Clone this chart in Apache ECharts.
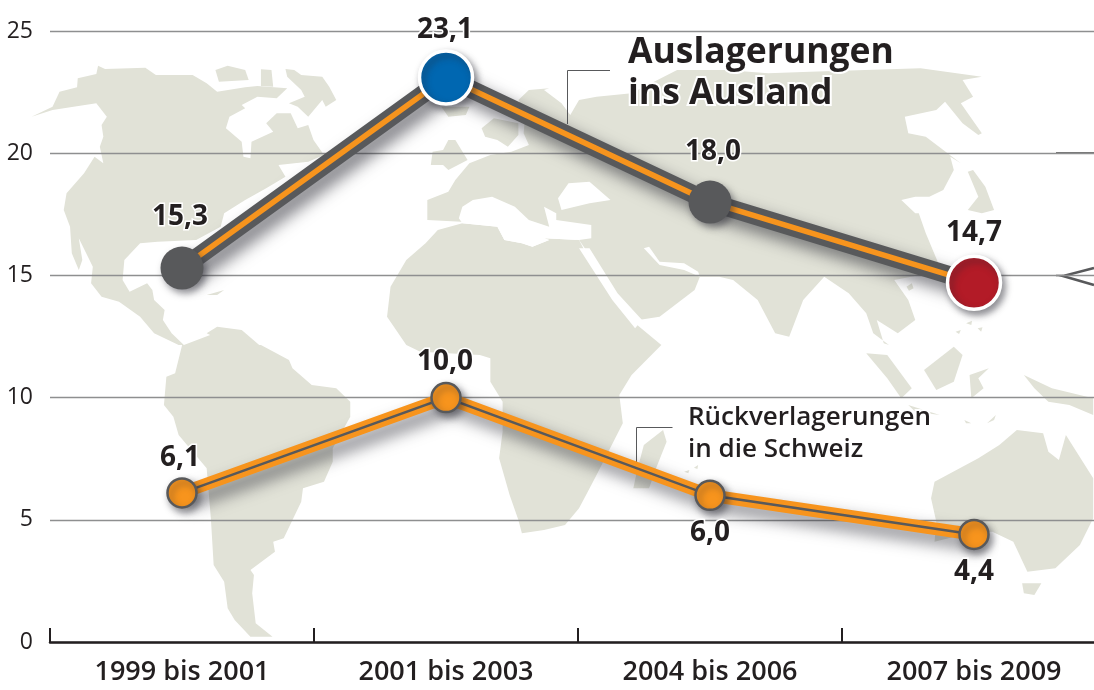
<!DOCTYPE html>
<html>
<head>
<meta charset="utf-8">
<style>
  html, body { margin: 0; padding: 0; background: #fff; overflow: hidden; }
  #main { width: 1200px; height: 690px; }
</style>
<script src="https://cdn.jsdelivr.net/npm/echarts@6/dist/echarts.min.js"></script>
</head>
<body>
<div id="main"></div>
<script>
const categories = ['1999 bis 2001', '2001 bis 2003', '2004 bis 2006', '2007 bis 2009'];
const auslagerungen = [15.3, 23.1, 18.0, 14.7];
const rueckverlagerungen = [6.1, 10.0, 6.0, 4.4];
const yTicks = [0, 5, 10, 15, 20, 25];

// background map, traced by hand (decoration only, no data in here)
const pts = (ox, oy) => (...v) => {
  const out = [];
  for (let i = 0; i < v.length; i += 2) out.push([v[i] / 2.855 + ox, v[i + 1] / 3 + oy]);
  return out;
};
const a = pts(0, 0), b = pts(544, 0), c = pts(0, 345), d = pts(544, 345);

const land = [
  // north america
  a(90,350,150,320,170,275,220,262,222,235,275,222,280,197,300,207,415,203,445,225,550,225,590,250,620,275,700,262,735,258,820,265,790,295,735,290,690,315,700,325,655,350,645,385,690,425,695,470,715,475,718,425,780,395,760,370,790,340,830,340,850,385,880,375,895,420,925,465,880,485,795,495,815,530,760,565,700,600,640,640,630,680,560,720,450,725,400,730,355,780,350,840,370,875,420,850,435,870,440,900,470,930,465,960,490,1000,525,1035,510,1035,440,1000,400,950,340,905,290,890,260,850,265,800,225,715,235,780,225,810,205,760,200,680,182,630,190,580,240,520,270,470,295,490,285,440,295,410,290,375,305,350,275,310,210,320,150,330),
  a(815,207,840,210,860,225,920,230,940,260,960,300,930,320,920,300,880,350,850,320,825,310,870,290,860,270,820,230),
  a(615,210,650,197,700,210,710,240,625,245),
  a(745,208,775,210,780,260,745,258),
  a(590,885,640,870,620,885),
  // south america
  [...a(620,980,590,1000,600,1005,525,1035), ...c(520,0,500,85,475,95,468,180,495,215,510,270,590,370,602,520,610,660,640,710,650,790,670,825,715,875,778,875,730,835,720,745,725,690,715,675,785,620,780,590,810,580,860,470,865,430,925,410,950,350,950,310,1000,215,1000,170,960,130,890,120,835,70,825,45,745,0), ...a(740,1035,690,990)],
  // eurasia
  [...a(1220,660,1220,600,1280,575,1300,540,1340,490,1400,465,1460,455,1510,435,1495,400,1500,340,1480,300,1510,270,1568,265), ...b(0,270,50,310,75,345,100,300,150,290,250,280,380,210,520,210,640,220,760,215,1075,205,1250,230,1195,240,1225,290,1190,310,1250,400,1240,405,1195,370,1145,305,1120,330,1030,350,1040,400,1090,410,1190,490,1160,470,1170,510,1140,570,1100,590,1060,590,1020,600,1060,640,1120,640,1070,640,1090,700,1130,800,1100,820,1000,840,1040,900,1060,960,1010,1000,950,960,970,1030,985,1035,940,1000,920,940,870,880,800,830,740,900,700,1010,660,1000,610,900,540,840,500,830,445,830,430,870,330,950,270,960,200,880,120,750,100,720), ...a(1568,700,1400,670)],
  a(1375,385,1410,355,1480,370,1480,405,1450,440,1420,420,1385,410),
  a(1235,455,1265,450,1280,420,1300,420,1335,480,1280,510,1265,495,1230,495),
  a(1260,320,1340,320,1330,345,1280,350),
  // africa
  [...a(1115,860,1160,780,1215,730,1250,690,1320,670,1420,680,1440,720,1490,730,1520,740,1568,720), ...b(0,715,100,720,120,760,200,900,260,970,335,1035), ...d(250,90,215,150,225,235,150,390,125,440,100,490,60,540,0,555), ...c(1490,565,1480,525,1455,450,1425,340,1435,260,1435,170,1400,110,1400,40,1370,30,1200,20,1160,0), ...a(1105,950)],
  d(255,430,265,380,285,300,340,255,350,290,320,370,300,430),
  d(400,380,415,375,412,385),
  d(428,368,440,360,438,372),
  // japan, islands
  b(1210,515,1225,510,1260,560,1285,630,1250,640,1210,630,1240,590),
  b(1035,860,1050,850,1055,865,1042,872),
  b(1205,970,1222,962,1220,975),
  b(1175,995,1190,990,1185,1002),
  b(1238,985,1252,982,1248,995),
  d(920,25,980,30,1050,130,1020,160,980,100),
  d(1085,75,1170,5,1195,30,1170,110,1120,135),
  d(1215,90,1270,70,1240,100,1255,130,1220,160),
  d(1370,90,1450,130,1568,160,1568,210,1500,180,1440,170,1400,130),
  d(1040,180,1130,210,1060,200),
  d(1200,225,1220,235,1205,235),
  d(1265,235,1290,210,1285,225),
  // australia
  d(1105,460,1115,410,1240,340,1300,300,1350,255,1425,265,1440,320,1470,345,1490,270,1568,400,1568,520,1530,600,1460,670,1380,680,1340,590,1280,560,1230,560,1115,590,1120,530),
  d(1365,715,1420,715,1400,750,1370,745)
];
const seas = [
  // mediterranean, black sea, persian gulf, red sea
  [...a(1310,655,1320,620,1350,600,1405,590,1470,620,1510,660,1568,680), ...b(0,620,35,640,35,660,135,675,135,715,100,720,0,715), ...a(1568,720,1520,740,1490,730,1440,720,1420,680,1320,670)],
  b(40,595,70,550,130,545,190,600,130,610,50,630),
  b(285,745,300,740,330,785,400,790,440,815,445,830,400,810,330,795),
  b(100,745,130,745,210,880,280,960,260,985,195,900)
];
const italy = a(1440,575,1470,580,1505,640,1490,635);

const graphics = [];
land.forEach(p => graphics.push({ type: 'polygon', z: 0, silent: true, shape: { points: p }, style: { fill: '#e1e2d7' } }));
seas.forEach(p => graphics.push({ type: 'polygon', z: 0, silent: true, shape: { points: p }, style: { fill: '#fff' } }));
graphics.push({ type: 'polygon', z: 0, silent: true, shape: { points: italy }, style: { fill: '#e1e2d7' } });

// leader lines and the cut-off arrow on the right edge
const leader = (points, w, color) => ({ type: 'polyline', z: 1, silent: true, shape: { points: points }, style: { stroke: color || '#58595b', fill: null, lineWidth: w } });
graphics.push(leader([[610, 70.5], [567.5, 70.5], [567.5, 124]], 1));
graphics.push(leader([[672.5, 427.5], [636.5, 427.5], [636.5, 462]], 1));
graphics.push(leader([[1056, 153], [1094, 153]], 1.5, '#444'));
graphics.push(leader([[1056, 275.5], [1063, 275.5]], 1.5, '#444'));
graphics.push(leader([[1094, 268], [1063, 276], [1094, 285]], 2.5));

// white halo first, text on top so the strokes stay heavy
function note(text, x, y, size, weight) {
  const base = { text: text, x: x, y: y, verticalAlign: 'middle', font: weight + ' ' + size + 'px "Open Sans"' };
  graphics.push({ type: 'text', z: 100, silent: true, style: Object.assign({ fill: '#fff', stroke: '#fff', lineWidth: 4 }, base) });
  graphics.push({ type: 'text', z: 101, silent: true, style: Object.assign({ fill: '#231f20' }, base) });
}
note('Auslagerungen', 628, 53, 35.5, 700);
note('ins Ausland', 628, 94, 35.5, 700);
note('Rückverlagerungen', 688, 418, 26, 600);
note('in die Schweiz', 688, 450, 26, 600);

const fmt = v => v.toFixed(1).replace('.', ',');
const shadow = { shadowColor: 'rgba(40,40,50,0.6)', shadowBlur: 16, shadowOffsetX: 7, shadowOffsetY: 9 };

function lineSeries(values, width, color, withShadow, z) {
  return {
    type: 'line', data: values, z: z, silent: true, showSymbol: false,
    lineStyle: Object.assign({ width: width, color: color, join: 'miter', cap: 'butt' }, withShadow ? shadow : { shadowBlur: 0 })
  };
}
function markerSeries(values, styles, offsets, z) {
  return {
    type: 'scatter', z: z, silent: true,
    data: values.map((v, i) => ({
      value: v,
      symbolSize: styles[i].size,
      itemStyle: { opacity: 1, color: styles[i].fill, borderColor: styles[i].border, borderWidth: styles[i].bw,
        shadowColor: 'rgba(40,40,50,0.5)', shadowBlur: 7, shadowOffsetX: 3, shadowOffsetY: 4 },
      label: {
        show: true, position: 'inside', offset: offsets[i], formatter: fmt(v),
        color: '#231f20', fontFamily: 'Open Sans', fontWeight: 700, fontSize: 28,
        textBorderColor: '#fff', textBorderWidth: 3
      }
    }))
  };
}

const dark = { size: 43, fill: '#58595b', border: '#58595b', bw: 0 };
const orange = { size: 29, fill: '#f7941d', border: '#58595b', bw: 2.5 };

const option = {
  animation: false,
  backgroundColor: '#fff',
  graphic: graphics,
  grid: { left: 50, top: 31, width: 1056, height: 611 },
  xAxis: {
    type: 'category', data: categories, z: 3,
    axisLine: { lineStyle: { color: '#231f20', width: 2.5 } },
    axisTick: { show: true, inside: true, length: 14, lineStyle: { color: '#231f20', width: 2 } },
    axisLabel: { color: '#231f20', fontFamily: 'Open Sans', fontWeight: 600, fontSize: 27, margin: 17 }
  },
  yAxis: {
    type: 'value', min: yTicks[0], max: yTicks[yTicks.length - 1], interval: 5, z: 1,
    axisLine: { show: false }, axisTick: { show: false },
    axisLabel: { color: '#231f20', fontFamily: 'Open Sans', fontSize: 23, margin: 17 },
    splitLine: { lineStyle: { color: '#8e8f90', width: 1.4 } }
  },
  series: [
    lineSeries(auslagerungen, 18, '#58595b', true, 5),
    lineSeries(auslagerungen, 5.5, '#f7941d', false, 6),
    markerSeries(auslagerungen, [
      dark,
      { size: 53, fill: '#0067b1', border: '#fff', bw: 3.5 },
      dark,
      { size: 53, fill: '#b31b27', border: '#fff', bw: 3.5 }
    ], [[-2, -51], [-1, -47], [3, -50], [0, -50]], 7),
    lineSeries(rueckverlagerungen, 12.5, '#f7941d', true, 8),
    lineSeries(rueckverlagerungen, 2.5, '#58595b', false, 9),
    markerSeries(rueckverlagerungen, [orange, orange, orange, orange],
      [[-2, -35], [-1, -36], [0, 38], [0, 38]], 10)
  ]
};

const myChart = echarts.init(document.getElementById('main'), null, { renderer: 'canvas' });
myChart.setOption(option);
</script>
</body>
</html>
